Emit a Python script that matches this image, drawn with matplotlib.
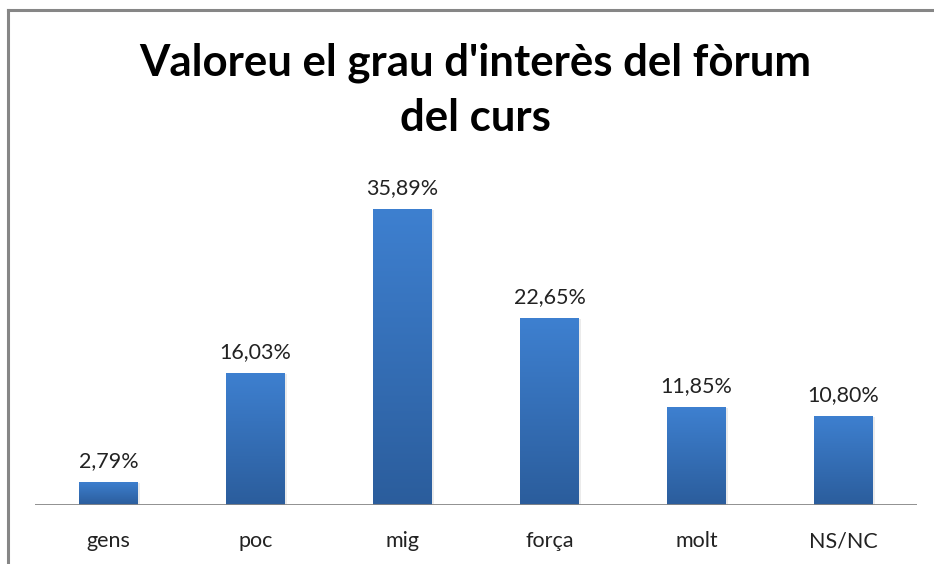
import numpy as np
import matplotlib.pyplot as plt
from matplotlib.patches import Rectangle
from matplotlib.lines import Line2D

categories = ['gens', 'poc', 'mig', 'força', 'molt', 'NS/NC']
values = [2.79, 16.03, 35.89, 22.65, 11.85, 10.80]
labels = ['2,79%', '16,03%', '35,89%', '22,65%', '11,85%', '10,80%']

plt.rcParams['font.family'] = ['Lato', 'DejaVu Sans']

fig = plt.figure(figsize=(9.34, 5.64), dpi=100)
ax = fig.add_axes([35 / 934, 59 / 564, 882 / 934, 325 / 564])

x = np.arange(len(categories))
width = 0.4

# gradient for the bars
grad = np.linspace(0, 1, 256).reshape(-1, 1)
top_col = np.array([0x3e, 0x80, 0xd0]) / 255
bot_col = np.array([0x2b, 0x5d, 0x9c]) / 255
img = top_col * grad[..., None] + bot_col * (1 - grad[..., None])
img = img.reshape(256, 1, 3)

for xi, v, lab in zip(x, values, labels):
    # soft shadow
    sh = Rectangle((xi - width / 2 + 0.015, 0), width, v - 0.15, facecolor='#000000',
                   alpha=0.08, edgecolor='none', zorder=1)
    ax.add_patch(sh)
    rect = Rectangle((xi - width / 2, 0), width, v, facecolor='none', edgecolor='none', zorder=2)
    ax.add_patch(rect)
    im = ax.imshow(img, extent=(xi - width / 2, xi + width / 2, 0, v), origin='lower',
                   aspect='auto', zorder=2)
    im.set_clip_path(rect)
    ax.text(xi, v + 1.3, lab, ha='center', va='bottom', fontsize=15.5, color='#222222')

ax.set_xlim(-0.5, len(categories) - 0.5)
ax.set_ylim(0, 325 / 8.25)

ax.axhline(0, color='#868686', linewidth=2, zorder=3)
for s in ax.spines.values():
    s.set_visible(False)
ax.set_yticks([])
ax.set_xticks(x)
ax.set_xticklabels(categories, fontsize=15.5, color='#222222')
ax.tick_params(axis='x', length=0, pad=19)

fig.text(475 / 934, 1 - 90 / 564, "Valoreu el grau d'interès del fòrum\ndel curs",
         ha='center', va='center', fontsize=31.5, fontweight='bold', linespacing=1.45)

# chart border (top and left edges visible)
fig.add_artist(Line2D([8 / 934, 1], [1 - 10 / 564, 1 - 10 / 564], color='#868686', linewidth=2.2))
fig.add_artist(Line2D([8 / 934, 8 / 934], [0, 1 - 10 / 564], color='#868686', linewidth=2.2))

fig.savefig('out.png', dpi=100)
